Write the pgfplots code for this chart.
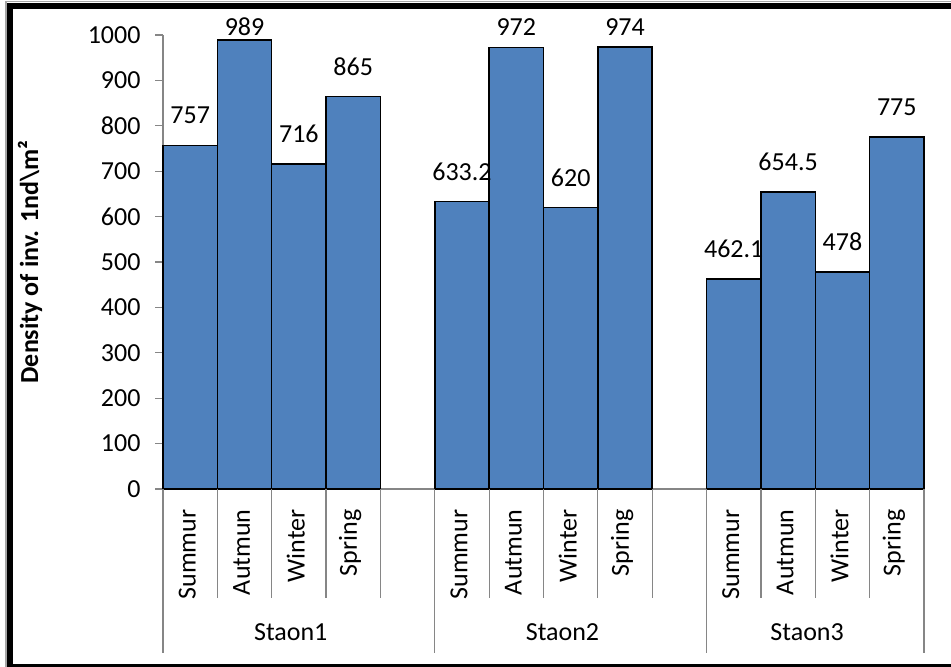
\documentclass[border=0pt]{standalone}
\usepackage{pgfplots}
\pgfplotsset{compat=1.18}
\usepackage{pgfplotstable}
\usepackage{fontspec}
\setmainfont{Carlito}

\definecolor{barblue}{HTML}{4F81BD}
\definecolor{axgray}{HTML}{868686}

% x = slot position (empty slot after each station), y = density, off = label lift in pt
\pgfplotstableread{
x  y      off
0  757    30
1  989    13.2
2  716    30
3  865    30
5  633.2  30
6  972    20.9
7  620    30
8  974    20
10 462.1  30
11 654.5  30
12 478    30
13 775    30
}\density

\newcommand{\lbl}{\fontsize{26}{31}\selectfont}

\begin{document}
\begin{tikzpicture}

\begin{axis}[
  at={(163pt,178pt)}, anchor=south west,
  scale only axis, width=761pt, height=454pt,
  xmin=-0.5, xmax=13.5, ymin=0, ymax=1000,
  clip=false,
  axis x line*=bottom, axis y line*=left,
  axis line style={axgray, line width=1.2pt, -},
  ytick={0,100,...,1000},
  tick align=outside, major tick length=8pt,
  ytick style={axgray, line width=1.2pt},
  y tick label style={xshift=-11pt},
  xtick={0,1,2,3,5,6,7,8,10,11,12,13},
  xticklabels={Summur,Autmun,Winter,Spring,Summur,Autmun,Winter,Spring,Summur,Autmun,Winter,Spring},
  xtick style={draw=none},
  x tick label style={rotate=90, anchor=east, xshift=-9pt, yshift=3pt},
  /pgf/number format/assume math mode=true,
  /pgf/number format/1000 sep={},
  tick label style={font=\lbl},
  ybar, bar width=1,
  nodes near coords,
  visualization depends on={\thisrow{off} \as \laboff},
  every node near coord/.append style={font=\lbl, anchor=center, yshift=\laboff},
]
\addplot[fill=barblue, draw=black, line width=1.5pt] table[x=x, y=y] {\density};

% category separators below the axis
\pgfplotsinvokeforeach{0.5,1.5,2.5,3.5,5.5,6.5,7.5,8.5,10.5,11.5,12.5}{
  \draw[axgray, line width=1.2pt] (axis cs:#1,0) -- ++(0pt,-109pt);
}
\pgfplotsinvokeforeach{-0.5,4.5,9.5,13.5}{
  \draw[axgray, line width=1.2pt] (axis cs:#1,0) -- ++(0pt,-164pt);
}

% station labels
\node[font=\lbl] at (axis cs:1.85,0) [yshift=-143pt] {Staon1};
\node[font=\lbl] at (axis cs:6.85,0) [yshift=-143pt] {Staon2};
\node[font=\lbl] at (axis cs:11.35,0) [yshift=-143pt] {Staon3};
\end{axis}

\node[rotate=90, font=\bfseries\fontsize{26}{31}\selectfont] at (30pt,405pt) {Density of inv. 1nd\textbackslash m²};

% frame around the chart (its right side lies beyond the page)
\draw[gray!70, line width=1.5pt] (5.8pt,-5pt) -- (5.8pt,665.5pt) -- (960pt,665.5pt);
\draw[black, line width=6pt] (960pt,-0.5pt) -- (9.7pt,-0.5pt) -- (9.7pt,660.7pt) -- (960pt,660.7pt);

% page = the visible chart area
\pgfresetboundingbox
\path[use as bounding box] (0pt,0pt) rectangle (951pt,667pt);
\end{tikzpicture}
\end{document}
